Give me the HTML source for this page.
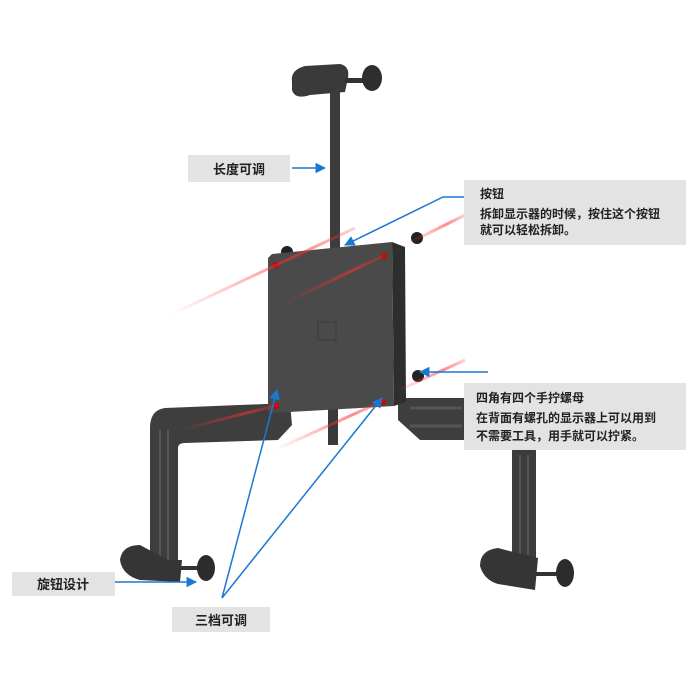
<!DOCTYPE html>
<html><head><meta charset="utf-8"><style>
html,body{margin:0;padding:0;background:#fff;width:700px;height:700px;overflow:hidden}
svg text{font-family:"Liberation Sans","Noto Sans CJK SC",sans-serif;font-weight:bold;fill:#222}
</style></head><body>
<svg width="700" height="700" viewBox="0 0 700 700" xmlns="http://www.w3.org/2000/svg">
<defs>
<marker id="ar" viewBox="0 0 10 10" refX="9" refY="5" markerWidth="7" markerHeight="7" orient="auto"><path d="M0,0L10,5L0,10z" fill="#1a78d2"/></marker>
<linearGradient id="rg" x1="0" y1="1" x2="1" y2="0"><stop offset="0" stop-color="#ff3030" stop-opacity="0"/><stop offset="0.7" stop-color="#ff3030" stop-opacity="0.8"/><stop offset="1" stop-color="#ff3030" stop-opacity="0.3"/></linearGradient>
</defs>
<!-- top clamp -->
<rect x="330" y="85" width="10" height="165" fill="#3c3c3c"/>
<path d="M292,82 Q290,70 305,66 L340,64 Q350,66 348,78 L345,92 L310,95 Q295,100 292,90z" fill="#3a3a3a"/>
<rect x="345" y="78" width="22" height="5" fill="#333"/>
<ellipse cx="372" cy="78" rx="10" ry="13" fill="#2e2e2e"/>
<!-- lower rod -->
<rect x="328" y="395" width="10" height="50" fill="#3a3a3a"/>
<!-- left arm and leg -->
<path d="M290,403 L165,408 Q150,410 150,428 L150,565 L178,565 L178,448 Q178,443 185,443 L278,440 L292,425z" fill="#3e3e3e"/>
<path d="M160,430 L160,560 M168,430 L168,560" stroke="#555" stroke-width="2"/>
<path d="M168,560 L140,545 Q122,545 120,560 Q122,575 140,580 L180,582 L182,560z" fill="#353535"/>
<rect x="180" y="566" width="22" height="4" fill="#333"/>
<ellipse cx="206" cy="568" rx="9" ry="13" fill="#2c2c2c"/>
<!-- right arm and leg -->
<path d="M398,398 L470,398 L470,440 L420,440 L398,420z" fill="#3e3e3e"/>
<path d="M410,408 L462,408 M410,426 L462,426" stroke="#555" stroke-width="3"/>
<rect x="512" y="450" width="24" height="110" fill="#3c3c3c"/>
<path d="M520,455 L520,555 M528,455 L528,555" stroke="#555" stroke-width="2"/>
<path d="M525,555 L498,548 Q480,550 480,566 Q484,580 498,584 L535,590 L538,558z" fill="#353535"/>
<rect x="536" y="572" width="22" height="4" fill="#333"/>
<ellipse cx="565" cy="573" rx="9" ry="14" fill="#2c2c2c"/>
<!-- plate -->
<circle cx="287" cy="252" r="6" fill="#222"/>
<path d="M392,242 L405,247 L406,402 L394,406z" fill="#2e2e2e"/>
<path d="M272,254 L392,242 L394,406 L272,413 Q268,413 268,409 L268,258z" fill="#4a4a4a"/>
<rect x="318" y="322" width="18" height="18" fill="none" stroke="#3a3a3a" stroke-width="1"/>
<circle cx="276" cy="265" r="3" fill="#c00"/><circle cx="384" cy="256" r="3" fill="#c00"/>
<circle cx="276" cy="406" r="3" fill="#c00"/><circle cx="383" cy="402" r="3" fill="#c00"/>
<circle cx="417" cy="238" r="6" fill="#222"/>
<circle cx="418" cy="376" r="6" fill="#222"/>
<!-- red streaks -->
<g stroke="url(#rg)" stroke-width="3" fill="none" opacity="0.7">
<line x1="170" y1="315" x2="355" y2="228"/>
<line x1="280" y1="305" x2="385" y2="255"/>
<line x1="405" y1="245" x2="465" y2="215"/>
<line x1="180" y1="430" x2="278" y2="405"/>
<line x1="275" y1="450" x2="385" y2="400"/>
<line x1="395" y1="392" x2="465" y2="360"/>
</g>
<!-- boxes -->
<rect x="188" y="155" width="102" height="27" fill="#e3e3e3"/>
<text x="239" y="174" font-size="13" text-anchor="middle">长度可调</text>
<rect x="464" y="180" width="222" height="65" fill="#e3e3e3"/>
<text x="480" y="198" font-size="12">按钮</text>
<text x="480" y="218" font-size="12">拆卸显示器的时候，按住这个按钮</text>
<text x="480" y="234" font-size="12">就可以轻松拆卸。</text>
<rect x="464" y="383" width="222" height="67" fill="#e3e3e3"/>
<text x="476" y="402" font-size="12">四角有四个手拧螺母</text>
<text x="476" y="422" font-size="12">在背面有螺孔的显示器上可以用到</text>
<text x="476" y="440" font-size="12">不需要工具，用手就可以拧紧。</text>
<rect x="12" y="572" width="103" height="24" fill="#e3e3e3"/>
<text x="63" y="589" font-size="13" text-anchor="middle">旋钮设计</text>
<rect x="172" y="607" width="98" height="25" fill="#e3e3e3"/>
<text x="221" y="625" font-size="13" text-anchor="middle">三档可调</text>
<!-- blue connectors -->
<g stroke="#1a78d2" stroke-width="1.5" fill="none" marker-end="url(#ar)">
<line x1="292" y1="168" x2="325" y2="168"/>
<polyline points="464,197 443,197 345,245"/>
<line x1="488" y1="372" x2="420" y2="372"/>
<line x1="115" y1="582" x2="196" y2="582"/>
<line x1="222" y1="598" x2="277" y2="390"/>
<line x1="222" y1="598" x2="382" y2="398"/>
</g>
</svg>
</body></html>
